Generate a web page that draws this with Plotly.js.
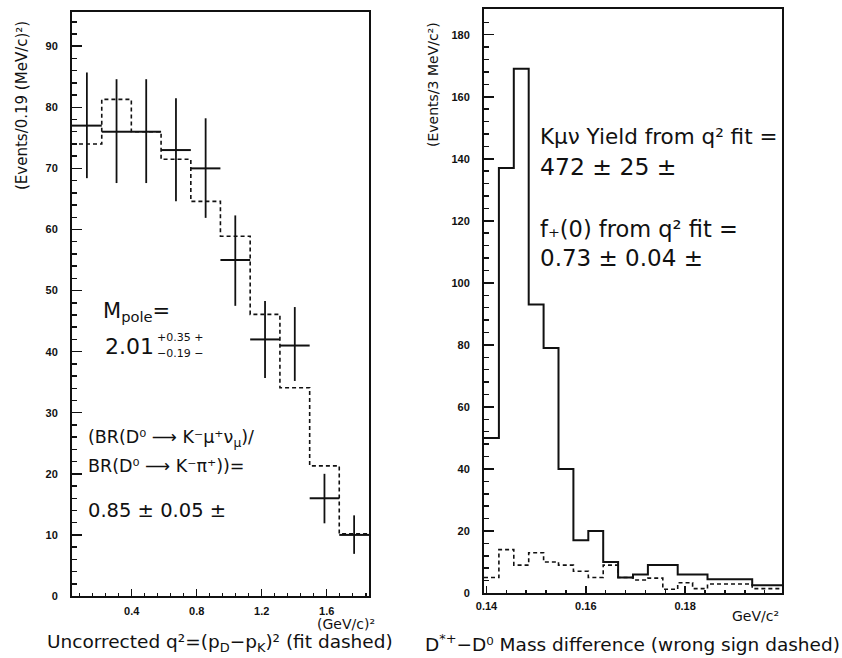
<!DOCTYPE html>
<html>
<head>
<meta charset="utf-8">
<script src="https://cdn.plot.ly/plotly-3.0.1.min.js"></script>
<style>html,body{margin:0;padding:0;background:#fff;}#chart{width:842px;height:658px;}</style>
</head>
<body>
<div id="chart"></div>
<script>
// ---- Left panel: uncorrected q^2 ----
const q2Edges = [0.033, 0.216, 0.398, 0.581, 0.764, 0.946, 1.129, 1.312, 1.495, 1.677, 1.860];
const q2Data  = [77, 76, 76, 73, 70, 55, 42, 41, 16, 10];
const q2ErrUp = [8.7, 8.6, 8.6, 8.5, 8.2, 7.3, 6.3, 6.3, 4.0, 3.2];
const q2ErrDn = [8.6, 8.4, 8.4, 8.4, 8.1, 7.5, 6.3, 5.8, 4.1, 3.1];
const q2Fit   = [74, 81.3, 76, 71.5, 64.6, 58.9, 46.1, 34.1, 21.3, 10.2];

// ---- Right panel: D*+ - D0 mass difference ----
const dmEdges = [0.1395, 0.1425, 0.1455, 0.1485, 0.1515, 0.1545, 0.1575, 0.1605, 0.1635, 0.1665,
                 0.1695, 0.1725, 0.1755, 0.1785, 0.1815, 0.1845, 0.1875, 0.1905, 0.1935, 0.1965, 0.1995];
const dmRight = [50, 137, 169, 93, 79, 40, 17, 20, 10, 5, 6, 9, 9, 6, 6, 4.4, 4.4, 4.4, 2.5, 2.5];
const dmWrong = [5, 14, 9, 13, 10, 9, 7, 5, 9, 5, 4.2, 4.8, 1.2, 3.3, 1.4, 2.9, 2.9, 2.9, 1.4, 1.4];

const W = 842, H = 658;
const px = x => x / W;
const py = y => 1 - y / H;

function stepY(vals){ return vals.concat([vals[vals.length-1]]); }
const q2Centers = q2Data.map((_, i) => (q2Edges[i] + q2Edges[i+1]) / 2);
const q2Half = q2Data.map((_, i) => (q2Edges[i+1] - q2Edges[i]) / 2);

const traces = [
  {x: q2Edges, y: stepY(q2Fit), xaxis: 'x', yaxis: 'y', mode: 'lines',
   line: {shape: 'hv', color: '#111', width: 1.6, dash: '4px,3px'}, hoverinfo: 'skip'},
  {x: q2Centers, y: q2Data, xaxis: 'x', yaxis: 'y', mode: 'markers',
   marker: {size: 1, color: '#111'},
   error_x: {type: 'data', array: q2Half, symmetric: true, width: 0, thickness: 2, color: '#111'},
   error_y: {type: 'data', array: q2ErrUp, arrayminus: q2ErrDn, symmetric: false, width: 0, thickness: 1.8, color: '#111'}},
  {x: dmEdges, y: stepY(dmWrong), xaxis: 'x2', yaxis: 'y2', mode: 'lines',
   line: {shape: 'hv', color: '#111', width: 1.6, dash: '4px,3px'}},
  {x: dmEdges, y: stepY(dmRight), xaxis: 'x2', yaxis: 'y2', mode: 'lines',
   line: {shape: 'hv', color: '#111', width: 2}}
];

const tickFont = {family: 'Liberation Sans, Arial, sans-serif', size: 11, color: '#111', weight: 'bold'};
const axBase = {showline: true, linecolor: '#111', linewidth: 2, mirror: true, ticks: 'inside',
  tickcolor: '#111', tickwidth: 1.5, showgrid: false, zeroline: false, tickfont: tickFont, fixedrange: true};

const txtFont = (s) => ({family: 'DejaVu Sans, sans-serif', size: s, color: '#111'});
function ann(text, x, y, size, extra){
  return Object.assign({text: text, xref: 'paper', yref: 'paper', x: px(x), y: py(y),
    xanchor: 'left', yanchor: 'middle', showarrow: false, font: txtFont(size)}, extra || {});
}

const layout = {
  width: W, height: H, showlegend: false,
  paper_bgcolor: '#fff', plot_bgcolor: '#fff',
  margin: {l: 0, r: 0, t: 0, b: 0},
  xaxis: Object.assign({}, axBase, {domain: [px(72), px(369)], range: [0.033, 1.860],
    tick0: 0, dtick: 0.4, ticklen: 7, minor: {dtick: 0.08, tick0: 0, ticklen: 3, ticks: 'inside', tickcolor: '#111'},
    ticklabelstandoff: 4, anchor: 'y'}),
  yaxis: Object.assign({}, axBase, {domain: [py(596), py(12)], range: [0, 95.6],
    tick0: 0, dtick: 10, ticklen: 10, minor: {dtick: 2, ticklen: 5, ticks: 'inside', tickcolor: '#111'},
    ticklabelstandoff: 10, anchor: 'x'}),
  xaxis2: Object.assign({}, axBase, {domain: [px(484), px(782)], range: [0.1395, 0.1995],
    tick0: 0.14, dtick: 0.02, ticklen: 7, minor: {dtick: 0.004, tick0: 0.14, ticklen: 3, ticks: 'inside', tickcolor: '#111'},
    ticklabelstandoff: 2, anchor: 'y2'}),
  yaxis2: Object.assign({}, axBase, {domain: [py(593), py(9)], range: [0, 188.3],
    tick0: 0, dtick: 20, ticklen: 10, minor: {dtick: 4, ticklen: 5, ticks: 'inside', tickcolor: '#111'},
    ticklabelstandoff: 10, anchor: 'x2'}),
  annotations: [
    // axis titles
    {text: '(Events/0.19 (MeV/c)²)', xref: 'paper', yref: 'paper', x: px(22), y: py(106), textangle: -90,
     showarrow: false, xanchor: 'center', yanchor: 'middle', font: {family: 'DejaVu Sans, sans-serif', size: 15, color: '#111'}},
    {text: '(Events/3 MeV/c²)', xref: 'paper', yref: 'paper', x: px(433), y: py(85), textangle: -90,
     showarrow: false, xanchor: 'center', yanchor: 'middle', font: {family: 'DejaVu Sans, sans-serif', size: 14, color: '#111'}},
    {text: '(GeV/c)²', xref: 'paper', yref: 'paper', x: px(346), y: py(624), showarrow: false,
     xanchor: 'center', yanchor: 'middle', font: {family: 'DejaVu Sans, sans-serif', size: 14, color: '#111'}},
    {text: 'GeV/c²', xref: 'paper', yref: 'paper', x: px(755), y: py(616), showarrow: false,
     xanchor: 'center', yanchor: 'middle', font: {family: 'DejaVu Sans, sans-serif', size: 14, color: '#111'}},
    // bottom captions
    ann('Uncorrected q²=(p<sub>D</sub>−p<sub>K</sub>)² (fit dashed)', 45, 643, 18.5),
    ann('D<sup>*+</sup>−D⁰ Mass difference (wrong sign dashed)', 423, 643, 18.5),
    // left panel text
    ann('M<sub>pole</sub>=', 101, 312, 21),
    ann('2.01', 103, 346, 22),
    ann('+0.35 +', 155, 337, 11),
    ann('−0.19 −', 155, 353, 11),
    ann('(BR(D⁰ ⟶ K⁻μ⁺ν<sub>μ</sub>)/', 86, 438, 17.5),
    ann('BR(D⁰ ⟶ K⁻π⁺))=', 86, 466, 17.5),
    ann('0.85 ± 0.05 ±', 86, 511, 19.5),
    // right panel text
    ann('Kμν Yield from q² fit =', 538, 137, 21.5),
    ann('472 ± 25 ±', 538, 167, 23.5),
    ann('f₊(0) from q² fit =', 538, 229, 22.5),
    ann('0.73 ± 0.04 ±', 538, 258, 23)
  ]
};

Plotly.newPlot('chart', traces, layout, {staticPlot: true, displayModeBar: false});
</script>
</body>
</html>
